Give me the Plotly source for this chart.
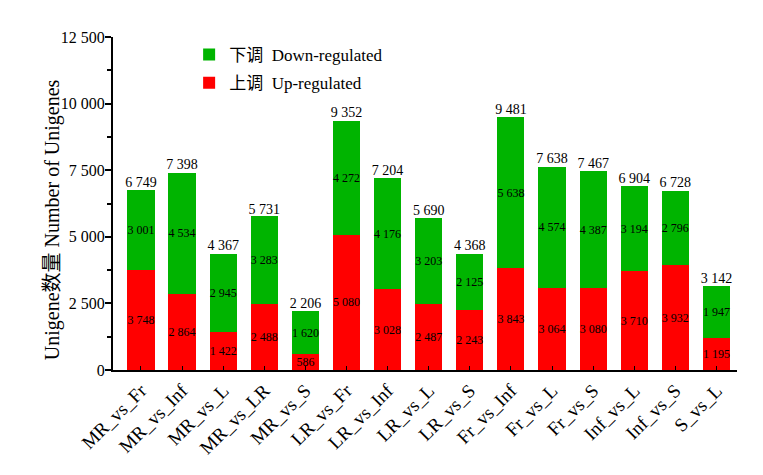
import plotly.graph_objects as go

# comparison groups
groups = ["MR_vs_Fr", "MR_vs_Inf", "MR_vs_L", "MR_vs_LR", "MR_vs_S",
          "LR_vs_Fr", "LR_vs_Inf", "LR_vs_L", "LR_vs_S", "Fr_vs_Inf",
          "Fr_vs_L", "Fr_vs_S", "Inf_vs_L", "Inf_vs_S", "S_vs_L"]
up = [3748, 2864, 1422, 2488, 586, 5080, 3028, 2487, 2243, 3843,
      3064, 3080, 3710, 3932, 1195]
down = [3001, 4534, 2945, 3283, 1620, 4272, 4176, 3203, 2125, 5638,
        4574, 4387, 3194, 2796, 1947]
totals = [6749, 7398, 4367, 5731, 2206, 9352, 7204, 5690, 4368, 9481,
          7638, 7467, 6904, 6728, 3142]

FONT = "Liberation Serif, Times New Roman, Noto Sans CJK SC, serif"


def fmt(v):
    # space as thousands separator like the figure
    return f"{v:,}".replace(",", " ")


fig = go.Figure()
fig.add_trace(go.Bar(
    x=groups, y=up, name="上调  Up-regulated",
    legendgroup="up", legendrank=2,
    marker=dict(color="#FF0000", line=dict(width=0)),
    text=[fmt(v) for v in up], textposition="inside",
    insidetextanchor="middle", textangle=0,
    textfont=dict(size=12, color="black", family=FONT),
))
fig.add_trace(go.Bar(
    x=groups, y=down, name="下调  Down-regulated",
    legendgroup="down", legendrank=1,
    marker=dict(color="#00B400", line=dict(width=0)),
    text=[fmt(v) for v in down], textposition="inside",
    insidetextanchor="middle", textangle=0,
    textfont=dict(size=12, color="black", family=FONT),
))
# totals above bars
fig.add_trace(go.Scatter(
    x=groups, y=totals, mode="text", text=[fmt(v) for v in totals],
    textposition="top center", showlegend=False, hoverinfo="skip",
    textfont=dict(size=14, color="black", family=FONT), cliponaxis=False,
))

fig.update_layout(
    width=763, height=475,
    barmode="stack", bargap=0.34,
    plot_bgcolor="white", paper_bgcolor="white",
    margin=dict(l=105, r=34, t=29, b=113),
    font=dict(family=FONT, size=15, color="black"),
    separators=". ",
    uniformtext=dict(minsize=12, mode="show"),
    legend=dict(x=0.122, y=1.0, xanchor="left", yanchor="top",
                bgcolor="rgba(0,0,0,0)", font=dict(size=17),
                traceorder="grouped", tracegroupgap=3),
    annotations=[dict(
        text="Unigene数量 Number of Unigenes", textangle=-90,
        xref="paper", yref="paper", x=0, y=0.45, xshift=-61,
        xanchor="center", yanchor="middle", showarrow=False,
        font=dict(size=20),
    )],
)
fig.update_xaxes(
    range=[-0.68, 14.5], showline=True, linewidth=2, linecolor="black",
    ticks="inside", ticklen=4, tickcolor="black", tickangle=-45,
    tickfont=dict(size=19), showgrid=False, automargin=False,
)
fig.update_yaxes(
    range=[0, 12500], dtick=2500, tickformat=",d",
    showline=True, linewidth=2, linecolor="black",
    ticks="outside", ticklen=6, tickwidth=2, tickcolor="black",
    minor=dict(dtick=1250, ticks="outside", ticklen=4, tickcolor="black"),
    showgrid=False, zeroline=False, tickfont=dict(size=16),
    ticklabelstandoff=-3, automargin=False,
)

fig.write_html("out.html")
